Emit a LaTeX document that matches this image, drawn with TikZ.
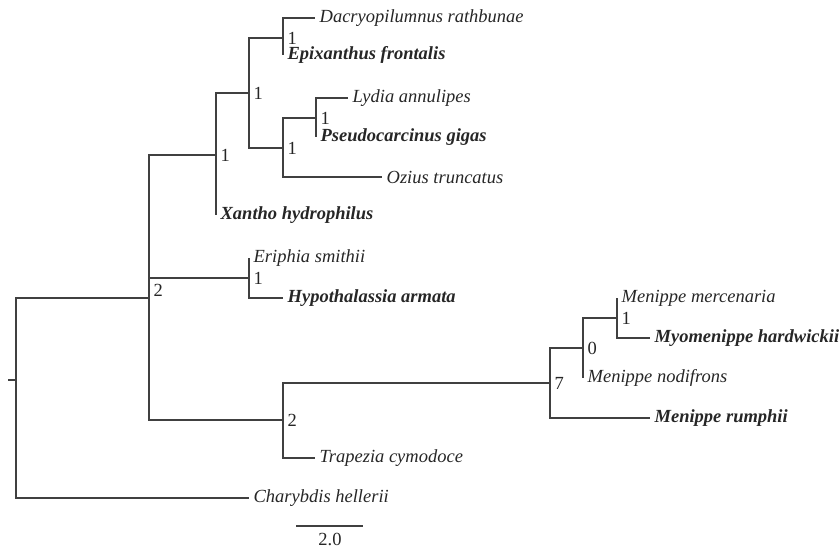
\documentclass[tikz,border=0pt]{standalone}
\usepackage{amsmath}
\usepackage{fontspec}
\setmainfont{Liberation Serif}
\newfontfamily\treefont{Liberation Serif}
\usepackage{pgf,tikz}
\usetikzlibrary{arrows}

\begin{document}
\begin{tikzpicture}[x=1pt,y=-1pt,line width=1.3pt,draw=black!75,
	every node/.style={inner sep=0pt,font=\treefont\fontsize{18.5}{20}\selectfont,text=black!85},
	tip/.style={anchor=west,xshift=4pt,font=\treefont\fontsize{18.5}{20}\selectfont\itshape},
	tipb/.style={anchor=west,xshift=4pt,font=\treefont\fontsize{18.5}{20}\selectfont\bfseries\itshape},
	val/.style={anchor=west,xshift=4pt}]
	\useasboundingbox (0,0) rectangle (839,549);
	
	\coordinate (dacr) at (315,18);
	\coordinate (epix) at (283,55);
	\coordinate (lydi) at (348,98);
	\coordinate (pseu) at (316,137);
	\coordinate (ozi) at (382,177);
	\coordinate (xant) at (216,215);
	\coordinate (erip) at (249,258);
	\coordinate (hypo) at (283,298);
	\coordinate (mmer) at (617,298);
	\coordinate (myom) at (650,338);
	\coordinate (mnod) at (583,378);
	\coordinate (mrum) at (650,418);
	\coordinate (trap) at (315,458);
	\coordinate (char) at (249,498);
	
	\coordinate (n1) at (283,38);
	\coordinate (n2) at (316,118);
	\coordinate (n3) at (283,148);
	\coordinate (n4) at (249,93);
	\coordinate (n5) at (216,155);
	\coordinate (n6) at (249,278);
	\coordinate (n7) at (617,318);
	\coordinate (n8) at (583,348);
	\coordinate (n9) at (550,383);
	\coordinate (n10) at (283,420);
	\coordinate (n11) at (149,298);
	\coordinate (root) at (16,380);
	\coordinate (stub) at (8,380);
	
	\draw (n1) |- (dacr);
	\draw (n1) |- (epix);
	\draw (n2) |- (lydi);
	\draw (n2) |- (pseu);
	\draw (n3) |- (n2);
	\draw (n3) |- (ozi);
	\draw (n4) |- (n1);
	\draw (n4) |- (n3);
	\draw (n5) |- (n4);
	\draw (n5) |- (xant);
	\draw (n6) |- (erip);
	\draw (n6) |- (hypo);
	\draw (n7) |- (mmer);
	\draw (n7) |- (myom);
	\draw (n8) |- (n7);
	\draw (n8) |- (mnod);
	\draw (n9) |- (n8);
	\draw (n9) |- (mrum);
	\draw (n10) |- (n9);
	\draw (n10) |- (trap);
	\draw (n11) |- (n5);
	\draw (n11) |- (n6);
	\draw (n11) |- (n10);
	\draw (root) |- (n11);
	\draw (root) |- (char);
	\draw (stub) -- (root);
	
	\node[tip] (tdacr) at (dacr) {Dacryopilumnus rathbunae};
	\node[tipb] (tepix) at (epix) {Epixanthus frontalis};
	\node[tip] (tlydi) at (lydi) {Lydia annulipes};
	\node[tipb] (tpseu) at (pseu) {Pseudocarcinus gigas};
	\node[tip] (tozi) at (ozi) {Ozius truncatus};
	\node[tipb] (txant) at (xant) {Xantho hydrophilus};
	\node[tip] (terip) at (erip) {Eriphia smithii};
	\node[tipb] (thypo) at (hypo) {Hypothalassia armata};
	\node[tip] (tmmer) at (mmer) {Menippe mercenaria};
	\node[tipb] (tmyom) at (myom) {Myomenippe hardwickii};
	\node[tip] (tmnod) at (mnod) {Menippe nodifrons};
	\node[tipb] (tmrum) at (mrum) {Menippe rumphii};
	\node[tip] (ttrap) at (trap) {Trapezia cymodoce};
	\node[tip] (tchar) at (char) {Charybdis hellerii};
	
	\node[val] (v1) at (n1) {1};
	\node[val] (v2) at (n2) {1};
	\node[val] (v3) at (n3) {1};
	\node[val] (v4) at (n4) {1};
	\node[val] (v5) at (n5) {1};
	\node[val] (v6) at (n6) {1};
	\node[val] (v7) at (n7) {1};
	\node[val] (v8) at (n8) {0};
	\node[val] (v9) at (n9) {7};
	\node[val] (v10) at (n10) {2};
	\node[val,yshift=8pt] (v11) at (n11) {2};
	
	\coordinate (sa) at (296,526);
	\coordinate (sb) at (363,526);
	\draw (sa) -- (sb);
	\node (scl) at (330,539) {2.0};
	
\end{tikzpicture}
\end{document}
